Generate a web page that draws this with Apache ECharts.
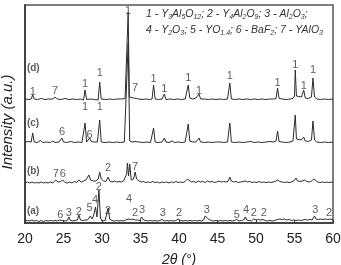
<!DOCTYPE html>
<html>
<head>
<meta charset="utf-8">
<script src="https://cdn.jsdelivr.net/npm/echarts@6/dist/echarts.min.js"></script>
<style>
  html, body { margin: 0; padding: 0; background: #fff; }
  #chart { width: 341px; height: 265px; }
</style>
</head>
<body>
<div id="chart"></div>
<script>
// 2theta (deg) and intensity above each pattern's own baseline (a.u.)
const patternD = [
  [20.0, 1], [20.5, 0.5], [20.8, 1], [21.0, 5], [21.2, 1], [21.6, 0.5], [22.1, 1.5], [22.6, 0.5],
  [23.0, 1], [23.6, 1], [23.9, 3], [24.2, 1], [24.7, 0.5], [25.2, 1.5], [25.7, 0.5], [26.2, 1],
  [26.7, 0.5], [27.2, 1], [27.6, 0], [27.8, 10], [28.0, 0.5], [28.6, 1], [29.0, 0.5], [29.5, 0],
  [29.7, 18], [29.9, 1], [30.5, 0.5], [31.0, 1], [31.5, 0.5], [32.0, 1], [32.5, 1], [33.0, 1.5],
  [33.25, 3], [33.4, 88], [33.55, 3], [33.8, 1], [34.1, 2], [34.3, 4], [34.5, 1.5], [34.8, 1],
  [35.2, 0.5], [35.7, 1], [36.2, 0.5], [36.5, 1], [36.7, 15], [36.9, 1], [37.3, 0.5], [37.8, 1],
  [38.1, 6], [38.3, 0.5], [38.8, 1], [39.3, 0.5], [39.8, 1], [40.3, 0.5], [40.8, 1], [41.0, 2],
  [41.2, 15], [41.4, 2], [41.8, 1], [42.2, 2], [42.6, 6], [42.8, 1], [43.3, 1], [43.8, 0.5],
  [44.3, 1], [44.8, 0.5], [45.3, 1], [45.8, 0.5], [46.3, 1], [46.6, 17], [46.8, 1], [47.3, 0.5],
  [47.8, 1], [48.3, 0.5], [48.8, 1], [49.3, 0.5], [49.8, 1], [50.3, 0.5], [50.8, 1], [51.3, 0.5],
  [51.8, 1], [52.3, 1], [52.6, 1.5], [52.8, 12], [53.0, 1.5], [53.4, 1], [53.9, 0.5], [54.4, 1],
  [54.8, 1.5], [55.0, 4], [55.1, 30], [55.25, 4], [55.5, 2], [55.9, 3], [56.2, 10], [56.4, 2],
  [56.8, 1.5], [57.2, 3], [57.4, 22], [57.6, 3], [57.9, 1], [58.4, 0.5], [58.9, 1], [59.4, 0.5],
  [60.0, 1]
];
const patternC = [
  [20.0, 1], [20.4, 1.5], [20.8, 1], [21.0, 10], [21.2, 1], [21.6, 0.5], [22.0, 2.5], [22.3, 0.5],
  [22.8, 1], [23.3, 0.5], [23.6, 2], [23.9, 0.5], [24.4, 1], [24.8, 5], [25.0, 1], [25.4, 0.5],
  [25.9, 1.5], [26.4, 0.5], [26.9, 1], [27.4, 0.5], [27.6, 1], [27.8, 20], [28.0, 1], [28.2, 2],
  [28.4, 5], [28.6, 1.5], [29.0, 1], [29.4, 1], [29.7, 23], [29.9, 1], [30.4, 0.5], [30.9, 1],
  [31.4, 0.5], [31.9, 1], [32.4, 0.5], [32.9, 1], [33.1, 2], [33.4, 100], [33.6, 2], [33.9, 1],
  [34.3, 1.5], [34.8, 1], [35.3, 0.5], [35.8, 1], [36.3, 0.5], [36.5, 1], [36.7, 15], [36.9, 1],
  [37.3, 0.5], [37.8, 1], [38.1, 5], [38.3, 1], [38.7, 0.5], [39.1, 2], [39.4, 0.5], [39.9, 1],
  [40.4, 0.5], [40.8, 1], [41.0, 2], [41.2, 19], [41.4, 2], [41.8, 1], [42.2, 1], [42.6, 5],
  [42.8, 1], [43.3, 0.5], [43.8, 1], [44.3, 0.5], [44.8, 1], [45.3, 1], [45.8, 0.5], [46.3, 1],
  [46.6, 20], [46.8, 1], [47.3, 0.5], [47.8, 1], [48.3, 0.5], [48.8, 1], [49.3, 1.5], [49.8, 0.5],
  [50.3, 1], [50.8, 0.5], [51.3, 1], [51.8, 1.5], [52.3, 1], [52.6, 2], [52.8, 12], [53.0, 1.5],
  [53.4, 1], [53.9, 0.5], [54.4, 1], [54.8, 2], [55.0, 4], [55.1, 28], [55.25, 4], [55.5, 2],
  [55.9, 3], [56.2, 6], [56.4, 2], [56.8, 1.5], [57.2, 3], [57.4, 22], [57.6, 3], [57.9, 1],
  [58.4, 0.5], [58.9, 1], [59.4, 0.5], [60.0, 1]
];
const patternB = [
  [20.0, 1], [20.3, 2], [20.6, 1], [20.9, 2], [21.2, 1], [21.5, 1.5], [21.8, 1], [22.1, 2],
  [22.4, 1], [22.7, 1.5], [23.0, 1], [23.3, 2], [23.6, 1], [24.0, 4], [24.3, 2], [24.6, 2.5],
  [24.9, 4], [25.2, 1.5], [25.5, 1], [25.8, 2], [26.1, 1], [26.4, 2.5], [26.7, 1.5], [27.0, 4],
  [27.3, 2], [27.6, 3], [27.9, 4], [28.1, 3], [28.3, 9], [28.5, 4], [28.7, 6], [28.9, 3],
  [29.2, 3], [29.5, 5], [29.7, 12], [29.9, 5], [30.2, 3], [30.5, 2.5], [30.8, 7], [31.0, 3],
  [31.3, 2], [31.6, 3], [31.9, 2], [32.2, 2.5], [32.5, 2], [32.8, 3], [33.0, 4], [33.2, 10],
  [33.3, 21], [33.45, 8], [33.6, 20], [33.8, 4], [34.1, 5], [34.3, 12], [34.5, 5], [34.8, 3],
  [35.1, 2], [35.4, 2.5], [35.7, 1.5], [36.0, 2], [36.3, 1.5], [36.6, 2.5], [36.9, 1.5], [37.2, 2],
  [37.5, 1], [37.8, 2], [38.1, 1.5], [38.4, 2], [38.7, 1], [39.0, 2], [39.3, 1.5], [39.6, 2.5],
  [39.9, 1.5], [40.2, 2], [40.5, 1.5], [40.8, 2.5], [41.1, 5], [41.3, 3], [41.6, 2], [41.9, 2.5],
  [42.2, 1.5], [42.5, 3], [42.8, 2], [43.1, 2.5], [43.4, 1.5], [43.7, 3], [44.0, 2], [44.3, 2.5],
  [44.6, 1.5], [44.9, 2], [45.2, 3], [45.5, 2], [45.8, 2.5], [46.1, 2], [46.4, 3], [46.6, 7],
  [46.8, 3], [47.1, 2], [47.4, 2.5], [47.7, 1.5], [48.0, 2], [48.3, 2.5], [48.6, 3], [48.9, 2],
  [49.2, 2.5], [49.5, 1.5], [49.8, 2], [50.1, 1.5], [50.4, 2.5], [50.7, 1.5], [51.0, 2], [51.3, 1.5],
  [51.6, 2], [51.9, 1.5], [52.2, 2], [52.5, 2.5], [52.8, 4], [53.1, 2.5], [53.4, 2], [53.7, 1.5],
  [54.0, 2], [54.3, 1.5], [54.6, 2], [54.9, 3], [55.2, 6], [55.4, 3], [55.7, 2.5], [56.0, 3],
  [56.3, 4], [56.6, 2.5], [56.9, 2], [57.2, 3], [57.5, 5], [57.7, 3], [58.0, 2], [58.3, 1.5],
  [58.6, 2], [58.9, 1.5], [59.2, 2], [59.5, 1.5], [60.0, 2]
];
const patternA = [
  [20.0, 1], [20.3, 1.5], [20.6, 1], [20.9, 2], [21.2, 1], [21.5, 1.5], [21.8, 0.5], [22.1, 1.5],
  [22.4, 0.5], [22.7, 1.5], [23.0, 1], [23.3, 1.5], [23.6, 1], [23.9, 1.5], [24.2, 1], [24.5, 2],
  [24.7, 3], [24.9, 1.5], [25.2, 1], [25.5, 1.5], [25.7, 5], [25.9, 1.5], [26.2, 1], [26.5, 1.5],
  [26.8, 2], [27.0, 7], [27.2, 2], [27.5, 1.5], [27.8, 2], [28.1, 2], [28.3, 4], [28.5, 6],
  [28.7, 3], [28.9, 6], [29.15, 15], [29.35, 5], [29.6, 32], [29.8, 4], [30.0, 1], [30.2, 0],
  [30.4, 1.5], [30.6, 3], [30.8, 14], [31.0, 3], [31.3, 1.5], [31.6, 1], [31.9, 1.5], [32.2, 1],
  [32.5, 1.5], [32.8, 1], [33.1, 2], [33.4, 3], [33.7, 2.5], [34.0, 3], [34.3, 2], [34.6, 2],
  [34.9, 1.5], [35.15, 5], [35.4, 2], [35.7, 1.5], [36.0, 1], [36.3, 1.5], [36.6, 1], [36.9, 1.5],
  [37.2, 1], [37.5, 1.5], [37.8, 2.5], [38.1, 1], [38.4, 1.5], [38.7, 1], [39.0, 1.5], [39.3, 1],
  [39.6, 1.5], [39.9, 3], [40.2, 1.5], [40.5, 1], [40.8, 1.5], [41.1, 1], [41.4, 1.5], [41.7, 1],
  [42.0, 1.5], [42.3, 1], [42.6, 1.5], [42.9, 1], [43.2, 2], [43.4, 6], [43.6, 4], [43.9, 2.5],
  [44.2, 1.5], [44.5, 1], [44.8, 1.5], [45.1, 1], [45.4, 1.5], [45.7, 1], [46.0, 1.5], [46.3, 1],
  [46.6, 1.5], [46.9, 1], [47.2, 1.5], [47.5, 2.5], [47.8, 1], [48.1, 1.5], [48.4, 2], [48.6, 5],
  [48.8, 2], [49.1, 1.5], [49.4, 1], [49.7, 3], [50.0, 2], [50.3, 2.5], [50.6, 2], [50.9, 2.5],
  [51.2, 1.5], [51.5, 1], [51.8, 1.5], [52.1, 1], [52.4, 1.5], [52.6, 3], [52.8, 2.5], [53.1, 3],
  [53.4, 2.5], [53.7, 3], [54.0, 2], [54.3, 2.5], [54.6, 1.5], [54.9, 2], [55.2, 1.5], [55.5, 2],
  [55.8, 1.5], [56.1, 2], [56.4, 2.5], [56.7, 2], [57.0, 2.5], [57.3, 2], [57.6, 6], [57.8, 3],
  [58.1, 2.5], [58.4, 3], [58.7, 2.5], [59.0, 3], [59.3, 2.5], [59.6, 3], [60.0, 2]
];

const patternNames = ['(a)', '(b)', '(c)', '(d)'];
const patternOffsets = [1, 39, 80, 123];

// phase markers: [2theta, height on the shared intensity axis, phase number]
const markers = [
  [21.0, 131, '1'], [23.9, 132, '7'], [27.8, 139, '1'], [29.7, 150, '1'], [33.4, 212, '1'],
  [34.3, 135, '7'], [36.7, 144, '1'], [38.1, 134, '1'], [41.2, 145, '1'], [42.6, 132, '1'],
  [46.6, 147, '1'], [52.8, 140, '1'], [55.1, 158, '1'], [56.2, 137, '1'], [57.4, 153, '1'],
  [27.8, 116, '1'], [29.7, 116, '1'],
  [24.8, 91, '6'], [28.4, 88, '6'],
  [24.0, 49, '7'], [24.9, 49, '6'], [30.8, 55, '2'], [34.3, 56, '7'],
  [24.6, 8, '6'], [25.7, 10, '3'], [27.0, 11, '2'], [28.4, 15, '5'], [29.1, 23, '4'],
  [29.6, 36, '2'], [30.8, 12, '2'], [33.5, 24, '4'], [34.3, 10, '2'], [35.2, 13, '3'],
  [37.9, 10, '3'], [40.0, 10, '2'], [43.6, 13, '3'], [47.5, 8, '5'], [48.7, 13, '4'],
  [49.7, 10, '2'], [51.0, 10, '2'], [57.7, 13, '3'], [59.5, 10, '2']
];
const nameX = 20.25;
const nameHeights = [12, 52, 100, 155];

const xTicks = [20, 25, 30, 35, 40, 45, 50, 55, 60];

const patterns = [patternA, patternB, patternC, patternD];

const chart = echarts.init(document.getElementById('chart'));

const lineSeries = patterns.map((p, i) => ({
  type: 'line',
  name: patternNames[i],
  data: p.map(d => [d[0], d[1] + patternOffsets[i]]),
  showSymbol: false,
  symbol: 'none',
  lineStyle: { color: '#2b2b2b', width: 1 },
  animation: false,
  silent: true,
  z: 2
}));

const legendStyle = { fontFamily: 'Arial', fontStyle: 'italic', fontWeight: 'normal', color: '#333' };

const option = {
  animation: false,
  title: {
    left: 146,
    top: 6,
    itemGap: 0,
    padding: 0,
    text: '{i|1 - Y}{s|3}{i|Al}{s|5}{i|O}{s|12}{i|; 2 - Y}{s|4}{i|Al}{s|2}{i|O}{s|9}{i|; 3 - Al}{s|2}{i|O}{s|3}{i|;}\n' +
          '{i|4 - Y}{s|2}{i|O}{s|3}{i|; 5 - YO}{s|1.4}{i|; 6 - BaF}{s|2}{i|; 7 - YAlO}{s|3}',
    textStyle: {
      fontWeight: 'normal',
      rich: {
        i: Object.assign({ fontSize: 10.5, lineHeight: 16 }, legendStyle),
        s: Object.assign({ fontSize: 7, lineHeight: 16, padding: [7, 0, 0, 0] }, legendStyle)
      }
    }
  },
  grid: {
    left: 25, right: 8, top: 5, bottom: 42,
    outerBoundsMode: 'none',
    show: true, borderColor: '#555', borderWidth: 1.5,
    containLabel: false
  },
  xAxis: {
    type: 'value',
    min: 20, max: 60, interval: 5,
    name: '2θ (°)',
    nameLocation: 'middle',
    nameGap: 30,
    nameTextStyle: { fontFamily: 'Arial', fontStyle: 'italic', fontSize: 14, color: '#222' },
    axisLine: { show: true, lineStyle: { color: '#333', width: 1.5 } },
    axisTick: { show: true, inside: true, length: 3, lineStyle: { color: '#333' } },
    axisLabel: {
      fontFamily: 'Arial', fontSize: 14, color: '#222', margin: 9,
      formatter: v => (xTicks.includes(v) ? String(v) : '')
    },
    splitLine: { show: false }
  },
  yAxis: {
    type: 'value',
    min: 0, max: 218,
    name: 'Intensity (a.u.)',
    nameLocation: 'middle',
    nameGap: 10,
    nameTextStyle: { fontFamily: 'Arial', fontStyle: 'italic', fontSize: 15, color: '#222', padding: [0, 16, 0, 0] },
    axisLine: { show: true, lineStyle: { color: '#444', width: 2 } },
    axisTick: { show: false },
    axisLabel: { show: false },
    splitLine: { show: false }
  },
  series: [
    ...lineSeries,
    {
      type: 'scatter',
      data: markers.map(m => ({ value: [m[0], m[1]], label: { formatter: m[2] } })),
      symbolSize: 0,
      silent: true,
      label: {
        show: true, position: 'inside',
        fontFamily: 'Arial', fontSize: 11, color: '#333'
      },
      z: 3
    },
    {
      type: 'scatter',
      data: patternNames.map((n, i) => ({ value: [nameX, nameHeights[i]], label: { formatter: n } })),
      symbolSize: 0,
      silent: true,
      label: {
        show: true, position: 'right', distance: 0,
        fontFamily: 'Arial', fontWeight: 'bold', fontSize: 10, color: '#333'
      },
      z: 3
    }
  ]
};

chart.setOption(option);
</script>
</body>
</html>
